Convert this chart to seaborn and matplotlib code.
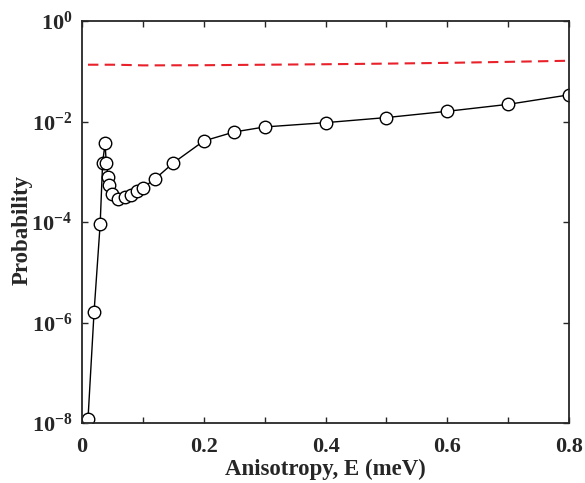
import numpy as np
import pandas as pd
import matplotlib
matplotlib.use("Agg")
import matplotlib.pyplot as plt
import seaborn as sns
from matplotlib.ticker import FixedLocator, FixedFormatter, NullLocator

# data
energy = [0.01, 0.02, 0.03, 0.034, 0.038, 0.04, 0.043, 0.045, 0.05, 0.06, 0.07,
          0.08, 0.09, 0.10, 0.12, 0.15, 0.20, 0.25, 0.30, 0.40, 0.50, 0.60, 0.70, 0.80]
prob = [1.2e-8, 1.65e-6, 9.2e-5, 1.5e-3, 3.7e-3, 1.5e-3, 8.0e-4, 5.5e-4, 3.6e-4, 2.9e-4, 3.1e-4,
        3.5e-4, 4.1e-4, 4.8e-4, 7.2e-4, 1.5e-3, 4.1e-3, 6.2e-3, 7.8e-3, 9.5e-3, 1.2e-2, 1.6e-2, 2.2e-2, 3.4e-2]

red_energy = [0.01, 0.05, 0.08, 0.10, 0.20, 0.30, 0.40, 0.50, 0.60, 0.70, 0.80]
red_prob = [0.135, 0.135, 0.133, 0.131, 0.132, 0.135, 0.138, 0.142, 0.147, 0.154, 0.162]

x_ticks = [0, 0.1, 0.2, 0.3, 0.4, 0.5, 0.6, 0.7, 0.8]
x_ticklabels = ["0", "", "0.2", "", "0.4", "", "0.6", "", "0.8"]
y_ticks = [1e-8, 1e-6, 1e-4, 1e-2, 1e0]
y_ticklabels = [r"$\mathbf{10^{-8}}$", r"$\mathbf{10^{-6}}$", r"$\mathbf{10^{-4}}$",
                r"$\mathbf{10^{-2}}$", r"$\mathbf{10^{0}}$"]

sns.set_style("ticks")
plt.rcParams["font.family"] = ["Liberation Serif", "DejaVu Serif"]
plt.rcParams["font.weight"] = "bold"
plt.rcParams["mathtext.fontset"] = "custom"
plt.rcParams["mathtext.rm"] = "Liberation Serif:bold"
plt.rcParams["mathtext.bf"] = "Liberation Serif:bold"
plt.rcParams["mathtext.it"] = "Liberation Serif:bold:italic"

df = pd.DataFrame({"E": energy, "P": prob})
dfr = pd.DataFrame({"E": red_energy, "P": red_prob})

fig = plt.figure(figsize=(5.85, 4.83), dpi=100)
ax = fig.add_axes([0.140, 0.124, 0.833, 0.8325])

sns.lineplot(data=dfr, x="E", y="P", ax=ax, color="#e8212b", lw=1.5,
             linestyle=(0, (5, 3)), sort=False)
sns.lineplot(data=df, x="E", y="P", ax=ax, color="black", lw=1.0, sort=False,
             marker="o", markersize=9, markerfacecolor="white",
             markeredgecolor="black", markeredgewidth=1.0)

ax.set_yscale("log")
ax.set_xlim(0, 0.8)
ax.set_ylim(1e-8, 1)
ax.xaxis.set_major_locator(FixedLocator(x_ticks))
ax.xaxis.set_major_formatter(FixedFormatter(x_ticklabels))
ax.yaxis.set_major_locator(FixedLocator(y_ticks))
ax.yaxis.set_major_formatter(FixedFormatter(y_ticklabels))
ax.yaxis.set_minor_locator(NullLocator())
ax.xaxis.set_minor_locator(NullLocator())
ax.tick_params(direction="in", top=True, right=True, length=4, width=1,
               labelsize=16)
ax.tick_params(axis="x", pad=10)
ax.tick_params(axis="y", pad=7)
for s in ax.spines.values():
    s.set_linewidth(1.3)
    s.set_visible(True)

ax.set_xlabel("Anisotropy, E (meV)", fontsize=16.5, fontweight="bold", labelpad=1)
ax.set_ylabel("Probability", fontsize=16.5, fontweight="bold")
ax.yaxis.set_label_coords(-0.10, 0.48)

fig.savefig("out.png", dpi=100)
